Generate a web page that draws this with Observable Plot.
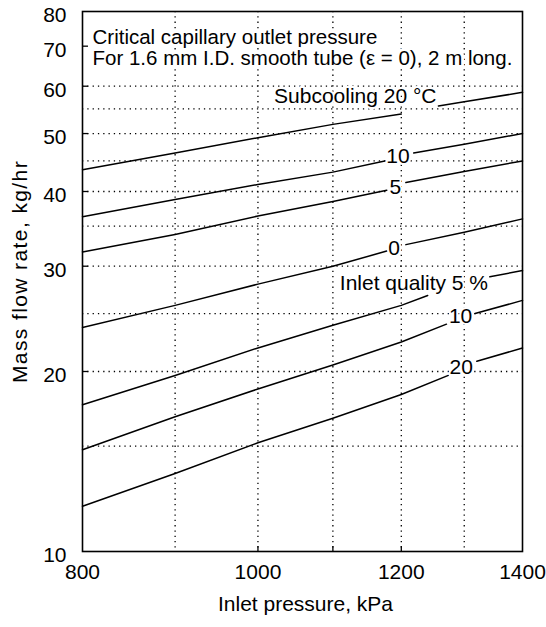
<!DOCTYPE html>
<html><head><meta charset="utf-8">
<script src="https://cdn.jsdelivr.net/npm/d3@7"></script>
<script src="https://cdn.jsdelivr.net/npm/@observablehq/plot@0.6"></script>
<style>
html,body{margin:0;padding:0;background:#fff;}
</style></head><body><div id="chart"></div>
<script>
// Axis ticks and grid values
const xTickValues = [800, 1000, 1200, 1400];
const xGridValues = [900, 1000, 1100, 1200, 1300];
const xInnerTicks = [1000, 1100, 1200];
const yTickValues = [10, 20, 30, 40, 50, 60, 70, 80];
const yGridValues = [15, 20, 25, 30, 35, 40, 45, 50, 55, 60];
const yInnerTicks = [20, 30, 40, 50, 60, 70];

// Curves: inlet pressure (kPa) and mass flow rate (kg/hr); null = gap for label
const sub20P = [800, 900, 1000, 1100, 1200, null, 1258, 1300, 1400];
const sub20F = [43.5, 46.4, 49.2, 51.8, 53.9, null, 55.6, 56.5, 58.6];
const sub10P = [800, 900, 1000, 1100, 1175, null, 1219, 1300, 1400];
const sub10F = [36.3, 38.8, 41.1, 43.1, 45.0, null, 46.4, 48.0, 50.0];
const sub5P  = [800, 900, 1000, 1100, 1178, null, 1207, 1300, 1400];
const sub5F  = [31.7, 33.9, 36.4, 38.5, 40.2, null, 41.4, 43.2, 45.0];
const sub0P  = [800, 900, 1000, 1100, 1178, null, 1207, 1300, 1400];
const sub0F  = [23.7, 25.8, 28.0, 30.0, 31.8, null, 32.6, 34.2, 36.0];
const q5P    = [800, 900, 1000, 1100, 1200, 1241, null, 1343, 1400];
const q5F    = [17.6, 19.7, 21.9, 23.9, 25.8, 26.8, null, 28.8, 29.5];
const q10P   = [800, 900, 1000, 1100, 1200, 1271, null, 1318, 1400];
const q10F   = [14.8, 16.8, 18.7, 20.5, 22.4, 24.0, null, 25.0, 26.3];
const q20P   = [800, 900, 1000, 1100, 1200, 1274, null, 1321, 1400];
const q20F   = [11.9, 13.5, 15.2, 16.7, 18.3, 19.7, null, 20.8, 21.9];

// Curve labels
const labelText   = ["Subcooling 20 °C", "10", "5", "0", "Inlet quality 5 %", "10", "20"];
const labelP      = [1255, 1195, 1191, 1189, 1340, 1294, 1295];
const labelF      = [57.7, 45.9, 40.7, 32.2, 28.1, 24.7, 20.3];
const labelAnchor = ["end", "middle", "middle", "middle", "end", "middle", "middle"];

const headerText = "Critical capillary outlet pressure\nFor 1.6 mm I.D. smooth tube (\u03b5 = 0), 2 m long.";
const xTitle = "Inlet pressure, kPa";
const yTitle = "Mass flow rate, kg/hr";

const series = [
  ["sub20", sub20P, sub20F], ["sub10", sub10P, sub10F], ["sub5", sub5P, sub5F],
  ["sub0", sub0P, sub0F], ["q5", q5P, q5F], ["q10", q10P, q10F], ["q20", q20P, q20F]
];
const rows = series.flatMap(([name, P, F]) => P.map((p, i) => ({series: name, p: p ?? NaN, f: F[i] ?? NaN})));
const labels = labelText.map((t, i) => ({t, p: labelP[i], f: labelF[i], a: labelAnchor[i]}));

const font = "'Liberation Sans', Arial, Helvetica, sans-serif";
const dotted = {stroke: "black", strokeOpacity: 1, strokeWidth: 1.3, strokeDasharray: "1.3,4"};

const chart = Plot.plot({
  width: 546,
  height: 627,
  marginLeft: 82,
  marginRight: 24,
  marginTop: 11,
  marginBottom: 76,
  style: {fontFamily: font, fontSize: "21px", background: "white", color: "black"},
  x: {type: "log", domain: [800, 1400]},
  y: {type: "log", domain: [10, 80]},
  marks: [
    Plot.gridX(xGridValues, dotted),
    Plot.gridY(yGridValues, dotted),
    Plot.axisX(xInnerTicks, {tickSize: -5, tickFormat: () => "", label: null, strokeWidth: 1.3}),
    Plot.axisY(yTickValues, {tickSize: 0, tickPadding: 16, dy: 4, tickFormat: d => String(d), label: null}),
    Plot.axisY(yInnerTicks, {tickSize: -6, tickFormat: () => "", label: null, strokeWidth: 1.3}),
    Plot.text(xTickValues, {x: d => d, text: d => String(d), frameAnchor: "bottom", dy: 27, fill: "black"}),
    Plot.frame({stroke: "black", strokeWidth: 1.6}),
    Plot.line(rows, {x: "p", y: "f", z: "series", stroke: "black", strokeWidth: 1.5}),
    Plot.text(labels.filter(d => d.a === "end"), {x: "p", y: "f", text: "t", textAnchor: "end",
      fill: "black", stroke: "white", strokeWidth: 4, paintOrder: "stroke"}),
    Plot.text(labels.filter(d => d.a === "middle"), {x: "p", y: "f", text: "t", textAnchor: "middle",
      fill: "black", stroke: "white", strokeWidth: 4, paintOrder: "stroke"}),
    Plot.text([headerText], {frameAnchor: "top-left", dx: 10, dy: 17, lineAnchor: "top", textAnchor: "start",
      lineHeight: 1.05, fontSize: 20.5, fill: "black", stroke: "white", strokeWidth: 6,
      strokeLinejoin: "round", paintOrder: "stroke"}),
    Plot.text([xTitle], {frameAnchor: "bottom", dx: 3, dy: 59, fill: "black"}),
    Plot.text([yTitle], {frameAnchor: "left", textAnchor: "middle", dx: -62, dy: -10, rotate: -90, fill: "black"})
  ]
});

d3.select(chart).selectAll("text").filter(function() { return this.textContent === yTitle; })
  .style("letter-spacing", "1.4px");

document.getElementById("chart").appendChild(chart);
</script>
</body></html>
